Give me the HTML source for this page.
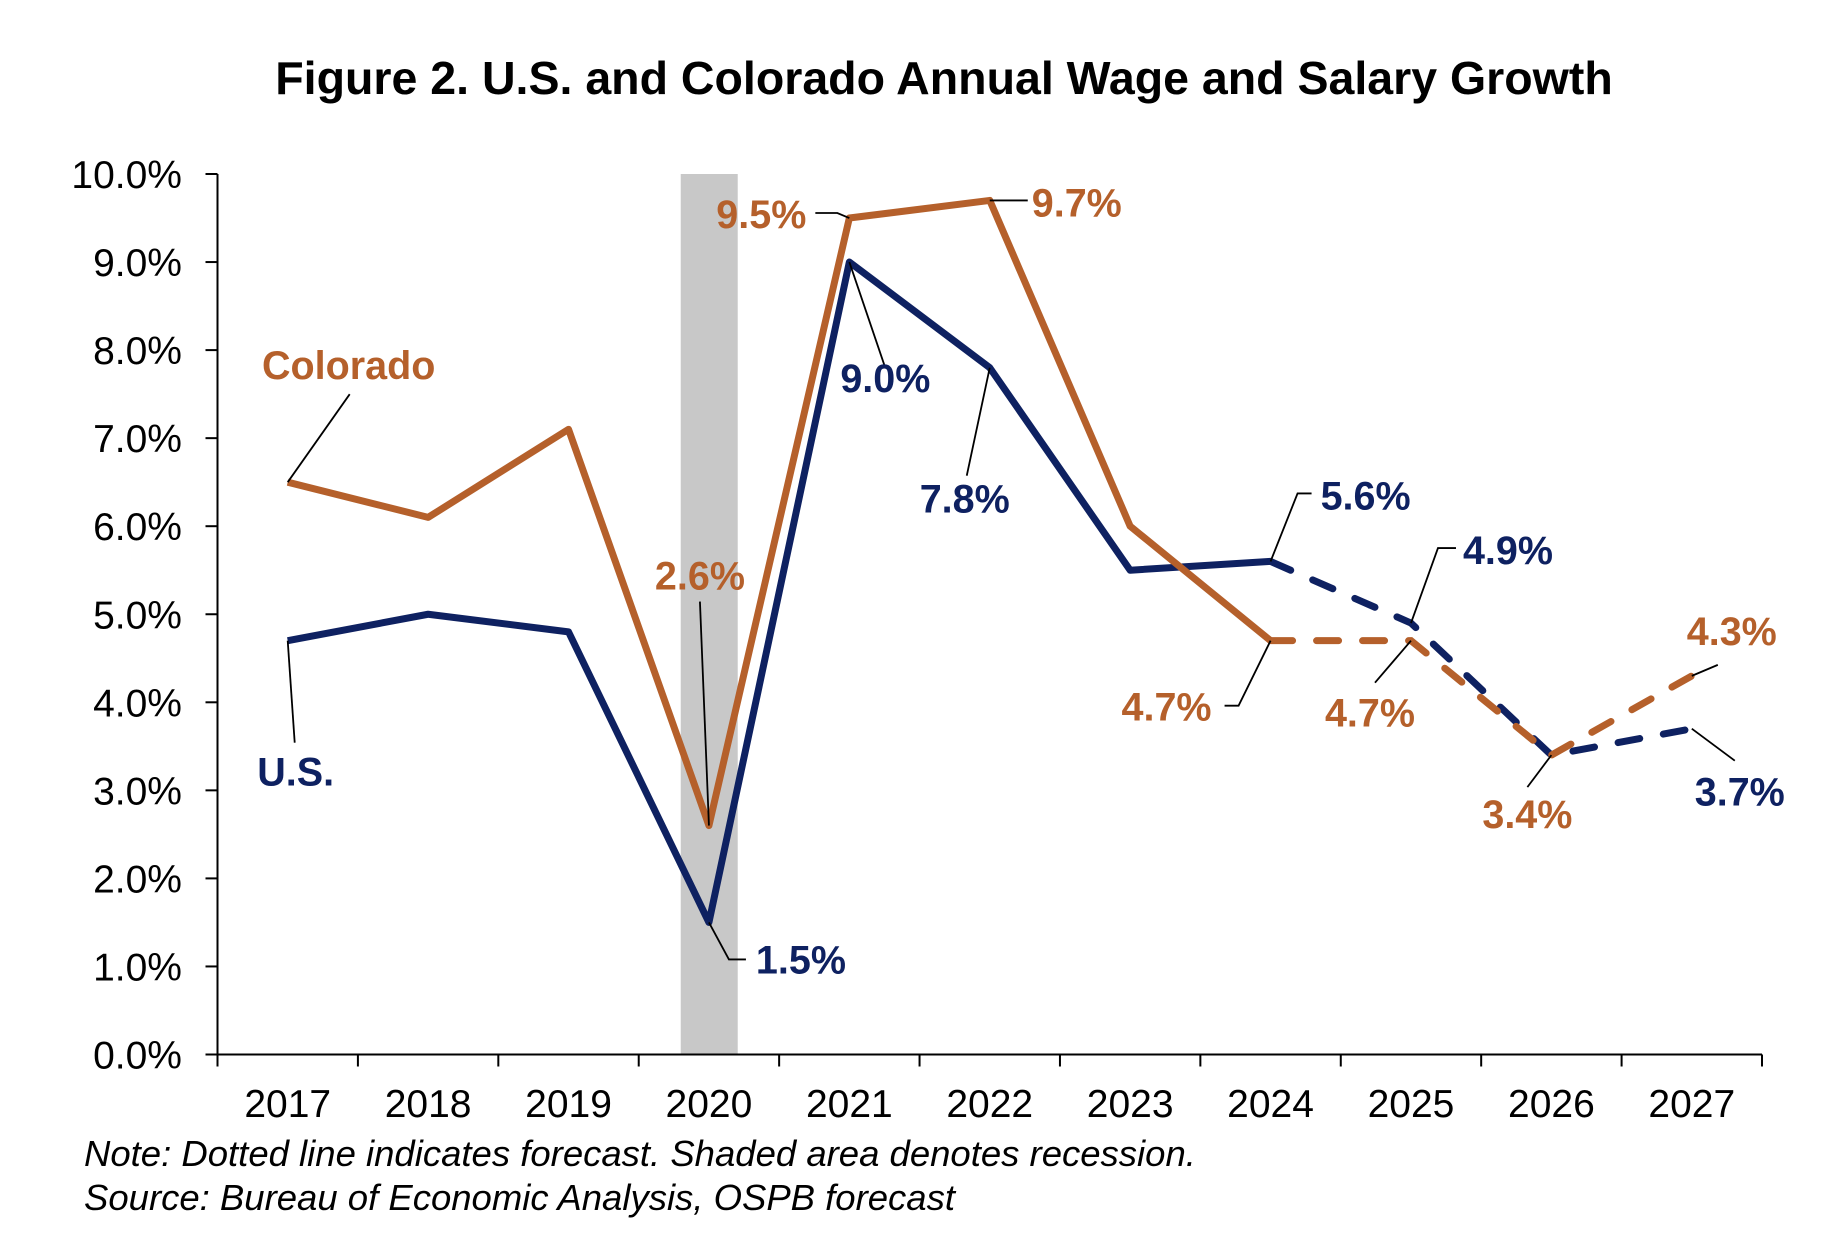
<!DOCTYPE html>
<html><head><meta charset="utf-8"><style>
html,body{margin:0;padding:0;background:#fff;}
svg{display:block;font-family:"Liberation Sans",Arial,sans-serif;}
</style></head><body>
<svg id="chart" width="1834" height="1260" viewBox="0 0 1834 1260" xmlns="http://www.w3.org/2000/svg"></svg>
<script>
const years = ["2017","2018","2019","2020","2021","2022","2023","2024","2025","2026","2027"];
const usValues = [4.7,5.0,4.8,1.5,9.0,7.8,5.5,5.6,4.9,3.4,3.7];
const coValues = [6.5,6.1,7.1,2.6,9.5,9.7,6.0,4.7,4.7,3.4,4.3];
const yTicks = [0,1,2,3,4,5,6,7,8,9,10];
const yTickLabels = ["0.0%","1.0%","2.0%","3.0%","4.0%","5.0%","6.0%","7.0%","8.0%","9.0%","10.0%"];
const forecastStart = 7; // index of 2024, dashed afterwards
const recessionIndex = 3;

const svg = document.getElementById('chart');
const NS = 'http://www.w3.org/2000/svg';
const L = 217.5, R = 1762, Y0 = 1054.5, Y10 = 174;
const bw = (R - L) / years.length;
const x = i => L + bw * (i + 0.5);
const y = v => Y0 - (v / 10) * (Y0 - Y10);
const NAVY = '#0E2161', ORANGE = '#B5602B';

function mk(tag, attrs, parent) {
  const e = document.createElementNS(NS, tag);
  for (const k in attrs) e.setAttribute(k, attrs[k]);
  (parent || svg).appendChild(e);
  return e;
}
function txt(str, attrs) { const t = mk('text', attrs); t.textContent = str; return t; }

let t = txt('Figure 2. U.S. and Colorado Annual Wage and Salary Growth', {x: 944, y: 94, 'text-anchor': 'middle', 'font-size': 46.5, 'font-weight': 'bold', fill: '#000'});



let band = mk('rect', {x: L + bw * recessionIndex + 42, y: Y10, width: 57, height: Y0 - Y10, fill: '#C8C8C8'});



let ya = mk('line', {x1: L, y1: Y10, x2: L, y2: Y0, stroke: '#000', 'stroke-width': 2});


let xa = mk('line', {x1: L - 12, y1: Y0, x2: R, y2: Y0, stroke: '#000', 'stroke-width': 2});



yTicks.forEach((v, i) => {
  let tk = mk('line', {x1: L - 12, y1: y(v), x2: L, y2: y(v), stroke: '#000', 'stroke-width': 2});
  
  
  let lb = txt(yTickLabels[i], {x: 182, y: y(v) + 14, 'text-anchor': 'end', 'font-size': 39, fill: '#000'});
  
  
});
for (let i = 0; i <= years.length; i++) {
  let tk = mk('line', {x1: L + bw * i, y1: Y0, x2: L + bw * i, y2: Y0 + 12, stroke: '#000', 'stroke-width': 2});
  
  
}
years.forEach((yr, i) => {
  let lb = txt(yr, {x: x(i), y: 1117, 'text-anchor': 'middle', 'font-size': 39, fill: '#000'});
  
  
});

function series(vals, color, name) {
  const solid = vals.slice(0, forecastStart + 1).map((v, i) => x(i) + ',' + y(v)).join(' ');
  const dash = vals.map((v, i) => [i, v]).slice(forecastStart).map(([i, v]) => x(i) + ',' + y(v)).join(' ');
  let p1 = mk('polyline', {points: solid, fill: 'none', stroke: color, 'stroke-width': 7, 'stroke-linejoin': 'round'});
  
  
  let p2 = mk('polyline', {points: dash, fill: 'none', stroke: color, 'stroke-width': 7, 'stroke-dasharray': '22 24', 'stroke-linecap': 'round'});
  
  
}
series(usValues, NAVY, 'us');
series(coValues, ORANGE, 'colorado');

function annot(vals, i, color, label, pts, lx, ly, anchor, name) {
  const px = x(i), py = y(vals[i]);
  const path = [[px, py]].concat(pts.map(p => [px + p[0], py + p[1]]));
  let ld = mk('polyline', {points: path.map(p => p.join(',')).join(' '), fill: 'none', stroke: '#000', 'stroke-width': 1.8});
  
  
  let lb = txt(label, {x: px + lx, y: py + ly, 'text-anchor': anchor, 'font-size': 39.5, 'font-weight': 'bold', fill: color});
  
  
}
const fmt = v => v.toFixed(1) + '%';
annot(coValues, 0, ORANGE, 'Colorado', [[62, -88]], 61, -103, 'middle', 'colorado-series');
annot(usValues, 0, NAVY, 'U.S.', [[7, 102]], 8, 145, 'middle', 'us-series');
annot(coValues, 3, ORANGE, fmt(coValues[3]), [[-9, -224]], -9, -236, 'middle', 'co-2020');
annot(usValues, 3, NAVY, fmt(usValues[3]), [[20, 37], [37, 37]], 47, 51, 'start', 'us-2020');
annot(coValues, 4, ORANGE, fmt(coValues[4]), [[-12, -5], [-34, -5]], -43, 10, 'end', 'co-2021');
annot(usValues, 4, NAVY, fmt(usValues[4]), [[35, 103]], 36, 130, 'middle', 'us-2021');
annot(coValues, 5, ORANGE, fmt(coValues[5]), [[38, 0]], 42, 16, 'start', 'co-2022');
annot(usValues, 5, NAVY, fmt(usValues[5]), [[-23, 108]], -25, 145, 'middle', 'us-2022');
annot(usValues, 7, NAVY, fmt(usValues[7]), [[27, -68], [41, -68]], 50, -52, 'start', 'us-2024');
annot(coValues, 7, ORANGE, fmt(coValues[7]), [[-32, 65], [-46, 65]], -59, 80, 'end', 'co-2024');
annot(usValues, 8, NAVY, fmt(usValues[8]), [[27, -75], [45, -75]], 52, -59, 'start', 'us-2025');
annot(coValues, 8, ORANGE, fmt(coValues[8]), [[-36, 42]], -41, 86, 'middle', 'co-2025');
annot(coValues, 9, ORANGE, fmt(coValues[9]), [[-24, 32]], -24, 73, 'middle', 'co-2026');
annot(coValues, 10, ORANGE, fmt(coValues[10]), [[26, -11]], 40, -31, 'middle', 'co-2027');
annot(usValues, 10, NAVY, fmt(usValues[10]), [[43, 32]], 48, 77, 'middle', 'us-2027');

let n1 = txt('Note: Dotted line indicates forecast. Shaded area denotes recession.', {x: 84, y: 1166, 'font-size': 36.5, 'font-style': 'italic', fill: '#000'});


let n2 = txt('Source: Bureau of Economic Analysis, OSPB forecast', {x: 84, y: 1210, 'font-size': 36.5, 'font-style': 'italic', fill: '#000'});


</script>
</body></html>
